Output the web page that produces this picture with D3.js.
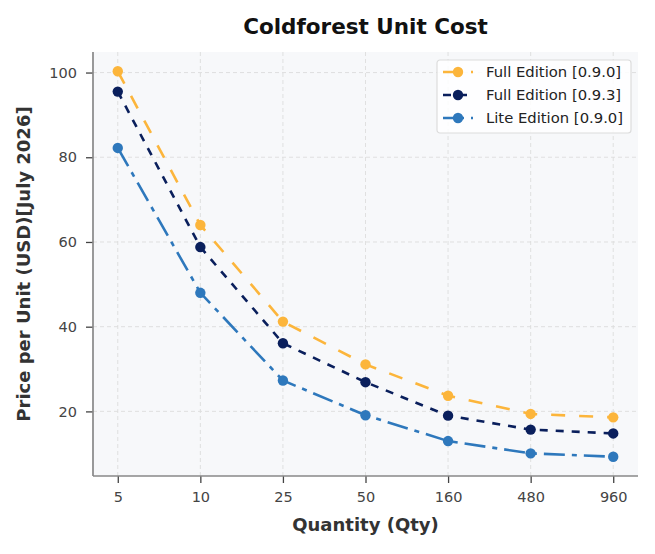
<!DOCTYPE html>
<html>
<head>
<meta charset="utf-8">
<script src="https://cdn.jsdelivr.net/npm/d3@7"></script>
<style>
  body { margin: 0; background: #fff; }
  svg { font-family: "DejaVu Sans", sans-serif; }
</style>
</head>
<body>
<div id="chart"></div>
<script>
// data
var quantities = ["5", "10", "25", "50", "160", "480", "960"];
var fullEdition090 = [100.3, 64.0, 41.2, 31.1, 23.7, 19.4, 18.6];
var fullEdition093 = [95.5, 58.8, 36.1, 26.9, 19.0, 15.7, 14.8];
var liteEdition090 = [82.2, 48.0, 27.3, 19.1, 13.0, 10.1, 9.3];
var seriesNames = ["Full Edition [0.9.0]", "Full Edition [0.9.3]", "Lite Edition [0.9.0]"];
var yTicks = [20, 40, 60, 80, 100];

var width = 655, height = 554;
var margin = {top: 52, right: 17, bottom: 78, left: 93};

var series = [
    {name: seriesNames[0], values: fullEdition090, color: "#fcb53b", dash: "14,14"},
    {name: seriesNames[1], values: fullEdition093, color: "#0a1f5c", dash: "8,8"},
    {name: seriesNames[2], values: liteEdition090, color: "#2e78bc", dash: "21,7,5,7"}
];

var svg = d3.select("#chart").append("svg")
    .attr("width", width)
    .attr("height", height);

var plotW = width - margin.left - margin.right;
var plotH = height - margin.top - margin.bottom;

// categorical x with matplotlib style margins
var x = d3.scaleLinear()
    .domain([-0.3, quantities.length - 1 + 0.3])
    .range([margin.left, margin.left + plotW]);

var y = d3.scaleLinear()
    .domain([4.75, 104.85])
    .range([margin.top + plotH, margin.top]);

// plot background
svg.append("rect")
    .attr("x", margin.left)
    .attr("y", margin.top)
    .attr("width", plotW)
    .attr("height", plotH)
    .attr("fill", "#f7f8fa");

// grid
var grid = svg.append("g");
quantities.forEach(function(q, i) {
    grid.append("line")
        .attr("x1", x(i)).attr("x2", x(i))
        .attr("y1", margin.top).attr("y2", margin.top + plotH)
        .attr("stroke", "#dcdcdc")
        .attr("stroke-width", 0.9)
        .attr("stroke-dasharray", "4,3");
});
yTicks.forEach(function(t) {
    grid.append("line")
        .attr("x1", margin.left).attr("x2", margin.left + plotW)
        .attr("y1", y(t)).attr("y2", y(t))
        .attr("stroke", "#dcdcdc")
        .attr("stroke-width", 0.9)
        .attr("stroke-dasharray", "4,3");
});

// axes
var xAxis = d3.axisBottom(x)
    .tickValues(d3.range(quantities.length))
    .tickFormat(function(d) { return quantities[d]; })
    .tickSize(7)
    .tickPadding(9);

var yAxis = d3.axisLeft(y)
    .tickValues(yTicks)
    .tickSize(7)
    .tickPadding(9);

var gx = svg.append("g")
    .attr("transform", "translate(0," + (margin.top + plotH) + ")")
    .call(xAxis);
var gy = svg.append("g")
    .attr("transform", "translate(" + margin.left + ",0)")
    .call(yAxis);

[gx, gy].forEach(function(g) {
    g.select(".domain").remove();
    g.selectAll(".tick line").attr("stroke", "#444").attr("stroke-width", 1.3);
    g.selectAll(".tick text")
        .attr("fill", "#444")
        .style("font-size", "14.5px")
        .style("font-family", "DejaVu Sans, sans-serif");
});

// spines
svg.append("line")
    .attr("x1", margin.left).attr("x2", margin.left)
    .attr("y1", margin.top).attr("y2", margin.top + plotH)
    .attr("stroke", "#888").attr("stroke-width", 1.7);
svg.append("line")
    .attr("x1", margin.left).attr("x2", margin.left + plotW)
    .attr("y1", margin.top + plotH).attr("y2", margin.top + plotH)
    .attr("stroke", "#888").attr("stroke-width", 1.7);

// lines + markers
var line = d3.line()
    .x(function(d, i) { return x(i); })
    .y(function(d) { return y(d); });

series.forEach(function(s) {
    svg.append("path")
        .datum(s.values)
        .attr("d", line)
        .attr("fill", "none")
        .attr("stroke", s.color)
        .attr("stroke-width", 2.6)
        .attr("stroke-dasharray", s.dash);
    svg.selectAll(null)
        .data(s.values)
        .enter().append("circle")
        .attr("cx", function(d, i) { return x(i); })
        .attr("cy", function(d) { return y(d); })
        .attr("r", 5.2)
        .attr("fill", s.color);
});

// title and labels
svg.append("text")
    .attr("x", margin.left + plotW / 2)
    .attr("y", 34)
    .attr("text-anchor", "middle")
    .attr("font-weight", "bold")
    .attr("font-size", "21.5px")
    .attr("fill", "#111")
    .text("Coldforest Unit Cost");

svg.append("text")
    .attr("x", margin.left + plotW / 2)
    .attr("y", 531)
    .attr("text-anchor", "middle")
    .attr("font-weight", "bold")
    .attr("font-size", "18px")
    .attr("fill", "#333")
    .text("Quantity (Qty)");

svg.append("text")
    .attr("transform", "translate(30," + (margin.top + plotH / 2) + ") rotate(-90)")
    .attr("text-anchor", "middle")
    .attr("font-weight", "bold")
    .attr("font-size", "18px")
    .attr("fill", "#333")
    .text("Price per Unit (USD)[July 2026]");

// legend
var legend = svg.append("g").attr("transform", "translate(437,60)");
legend.append("rect")
    .attr("width", 194)
    .attr("height", 73)
    .attr("rx", 3)
    .attr("fill", "#fff")
    .attr("fill-opacity", 0.85)
    .attr("stroke", "#dcdcdc")
    .attr("stroke-width", 1.2);

series.forEach(function(s, i) {
    var row = legend.append("g").attr("transform", "translate(0," + (12 + i * 23) + ")");
    row.append("line")
        .attr("x1", 6).attr("x2", 36)
        .attr("stroke", s.color)
        .attr("stroke-width", 2.6)
        .attr("stroke-dasharray", s.dash);
    row.append("circle")
        .attr("cx", 21).attr("r", 5.2)
        .attr("fill", s.color);
    row.append("text")
        .attr("x", 49)
        .attr("dy", "0.35em")
        .attr("font-size", "14.8px")
        .attr("fill", "#222")
        .text(s.name);
});
</script>
</body>
</html>
